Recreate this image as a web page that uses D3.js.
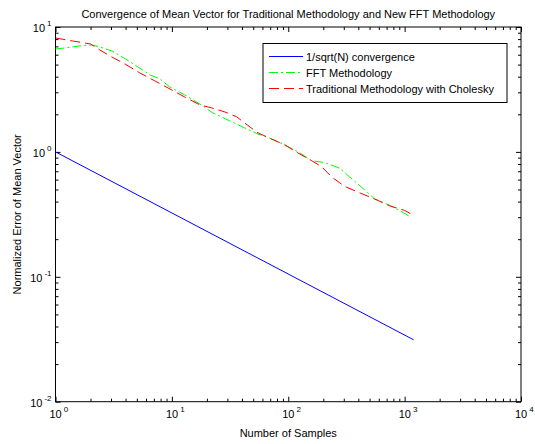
<!DOCTYPE html>
<html>
<head>
<meta charset="utf-8">
<script src="https://cdn.jsdelivr.net/npm/d3@7"></script>
<style>
  body { margin: 0; background: #fff; }
  svg text { font-family: "Liberation Sans", Arial, sans-serif; fill: #000; }
</style>
</head>
<body>
<svg id="chart"></svg>
<script>
// data
const sqrtN = [1, 1195];
const sqrtVal = [1, 0.0313];

const fftN = [1, 1.2, 1.6, 2.06, 2.4, 3.05, 4.0, 5.1, 6.5, 7.9, 9.6, 12.9, 17.4, 22.5, 31.5, 42, 55, 69, 93, 126, 159, 206, 277, 337, 428, 553, 714, 906, 1130];
const fftVal = [6.67, 6.79, 7.05, 7.18, 6.92, 6.43, 5.55, 4.79, 4.13, 3.84, 3.31, 2.86, 2.42, 2.05, 1.77, 1.56, 1.39, 1.29, 1.14, 0.98, 0.85, 0.82, 0.74, 0.63, 0.52, 0.42, 0.38, 0.34, 0.30];

const cholN = [1, 1.4, 2, 2.4, 3.05, 3.95, 5.3, 7.15, 10, 12.9, 17.4, 22, 28.5, 36, 47, 55, 69, 93, 126, 159, 194, 236, 305, 411, 553, 743, 1000, 1195];
const cholVal = [8.17, 7.73, 7.31, 6.55, 5.75, 5.06, 4.29, 3.70, 3.13, 2.75, 2.38, 2.25, 2.09, 1.91, 1.58, 1.42, 1.29, 1.14, 0.96, 0.85, 0.76, 0.63, 0.53, 0.47, 0.42, 0.37, 0.34, 0.31];

const xDecades = [0, 1, 2, 3, 4];
const yDecades = [-2, -1, 0, 1];

const seriesNames = ["1/sqrt(N) convergence", "FFT Methodology", "Traditional Methodology with Cholesky"];

const width = 535, height = 444;
const margin = { top: 27, right: 14, bottom: 42.3, left: 55.5 };

const svg = d3.select("#chart")
    .attr("width", width)
    .attr("height", height);

const x = d3.scaleLog()
    .domain([1, 1e4])
    .range([margin.left, width - margin.right]);

const y = d3.scaleLog()
    .domain([1e-2, 1e1])
    .range([height - margin.bottom, margin.top]);

// minor ticks 2..9 in each decade
function minorTicks(decs) {
    const out = [];
    for (let i = 0; i < decs.length - 1; i++) {
        for (let k = 2; k <= 9; k++) out.push(k * Math.pow(10, decs[i]));
    }
    return out;
}
const xMajor = xDecades.map(d => Math.pow(10, d));
const yMajor = yDecades.map(d => Math.pow(10, d));
const xMinor = minorTicks(xDecades);
const yMinor = minorTicks(yDecades);

const x0 = x.range()[0], x1 = x.range()[1];
const y0 = y.range()[0], y1 = y.range()[1];

// axes with ticks pointing inward, on all four sides
function addAxis(axisFn, scale, values, size, tx, ty) {
    const g = svg.append("g")
        .attr("transform", `translate(${tx}, ${ty})`)
        .call(axisFn(scale).tickValues(values).tickSizeInner(-size).tickSizeOuter(0).tickFormat(""));
    g.select(".domain").remove();
    g.selectAll("line").attr("stroke", "#000").attr("stroke-width", 1);
}
addAxis(d3.axisBottom, x, xMajor, 5, 0, y0);
addAxis(d3.axisBottom, x, xMinor, 3, 0, y0);
addAxis(d3.axisTop, x, xMajor, 5, 0, y1);
addAxis(d3.axisTop, x, xMinor, 3, 0, y1);
addAxis(d3.axisLeft, y, yMajor, 5, x0, 0);
addAxis(d3.axisLeft, y, yMinor, 3, x0, 0);
addAxis(d3.axisRight, y, yMajor, 5, x1, 0);
addAxis(d3.axisRight, y, yMinor, 3, x1, 0);

svg.append("rect")
    .attr("x", x0).attr("y", y1)
    .attr("width", x1 - x0).attr("height", y0 - y1)
    .attr("fill", "none")
    .attr("stroke", "#000")
    .attr("stroke-width", 1);

// tick labels 10^n ("10" centred on the tick, exponent to its right)
svg.selectAll(".xlab")
    .data(xDecades)
    .join("text")
    .attr("class", "xlab")
    .attr("x", d => x(Math.pow(10, d)) - 6)
    .attr("y", y0 + 16)
    .attr("font-size", 11)
    .each(function(d) {
        const t = d3.select(this);
        t.append("tspan").text("10");
        t.append("tspan").attr("dy", -6).attr("dx", 2).attr("font-size", 8).text(d);
    });

svg.selectAll(".ylab")
    .data(yDecades)
    .join("text")
    .attr("class", "ylab")
    .attr("x", x0 - 4)
    .attr("y", d => y(Math.pow(10, d)) + 5)
    .attr("text-anchor", "end")
    .attr("font-size", 11)
    .each(function(d) {
        const t = d3.select(this);
        t.append("tspan").text("10");
        t.append("tspan").attr("dy", -6).attr("dx", 2).attr("font-size", 8).text(d);
    });

// title and axis labels
svg.append("text")
    .attr("x", (x0 + x1) / 2)
    .attr("y", 18)
    .attr("text-anchor", "middle")
    .attr("font-size", 11)
    .text("Convergence of Mean Vector for Traditional Methodology and New FFT Methodology");

svg.append("text")
    .attr("x", (x0 + x1) / 2)
    .attr("y", 437)
    .attr("text-anchor", "middle")
    .attr("font-size", 11)
    .text("Number of Samples");

svg.append("text")
    .attr("transform", `translate(21, ${(y0 + y1) / 2}) rotate(-90)`)
    .attr("text-anchor", "middle")
    .attr("font-size", 11)
    .text("Normalized Error of Mean Vector");

// series
const line = d3.line()
    .x(d => x(d[0]))
    .y(d => y(d[1]));

const series = [
    { n: sqrtN, v: sqrtVal, color: "#0000ff", dash: null },
    { n: fftN, v: fftVal, color: "#00ff00", dash: "9,3,2,3" },
    { n: cholN, v: cholVal, color: "#ff0000", dash: "10,5" }
];

svg.selectAll(".series")
    .data(series)
    .join("path")
    .attr("class", "series")
    .attr("d", s => line(s.n.map((n, i) => [n, s.v[i]])))
    .attr("fill", "none")
    .attr("stroke", s => s.color)
    .attr("stroke-width", 1)
    .attr("stroke-dasharray", s => s.dash);

// legend
const legend = svg.append("g").attr("transform", "translate(263, 43.5)");
legend.append("rect")
    .attr("width", 244).attr("height", 59)
    .attr("fill", "#fff")
    .attr("stroke", "#000")
    .attr("stroke-width", 1);

const items = legend.selectAll(".item")
    .data(series)
    .join("g")
    .attr("class", "item")
    .attr("transform", (d, i) => `translate(0, ${13 + i * 16})`);

items.append("line")
    .attr("x1", 6).attr("x2", 40)
    .attr("stroke", d => d.color)
    .attr("stroke-width", 1)
    .attr("stroke-dasharray", d => d.dash);

items.append("text")
    .attr("x", 43)
    .attr("y", 4)
    .attr("font-size", 11)
    .text((d, i) => seriesNames[i]);
</script>
</body>
</html>
